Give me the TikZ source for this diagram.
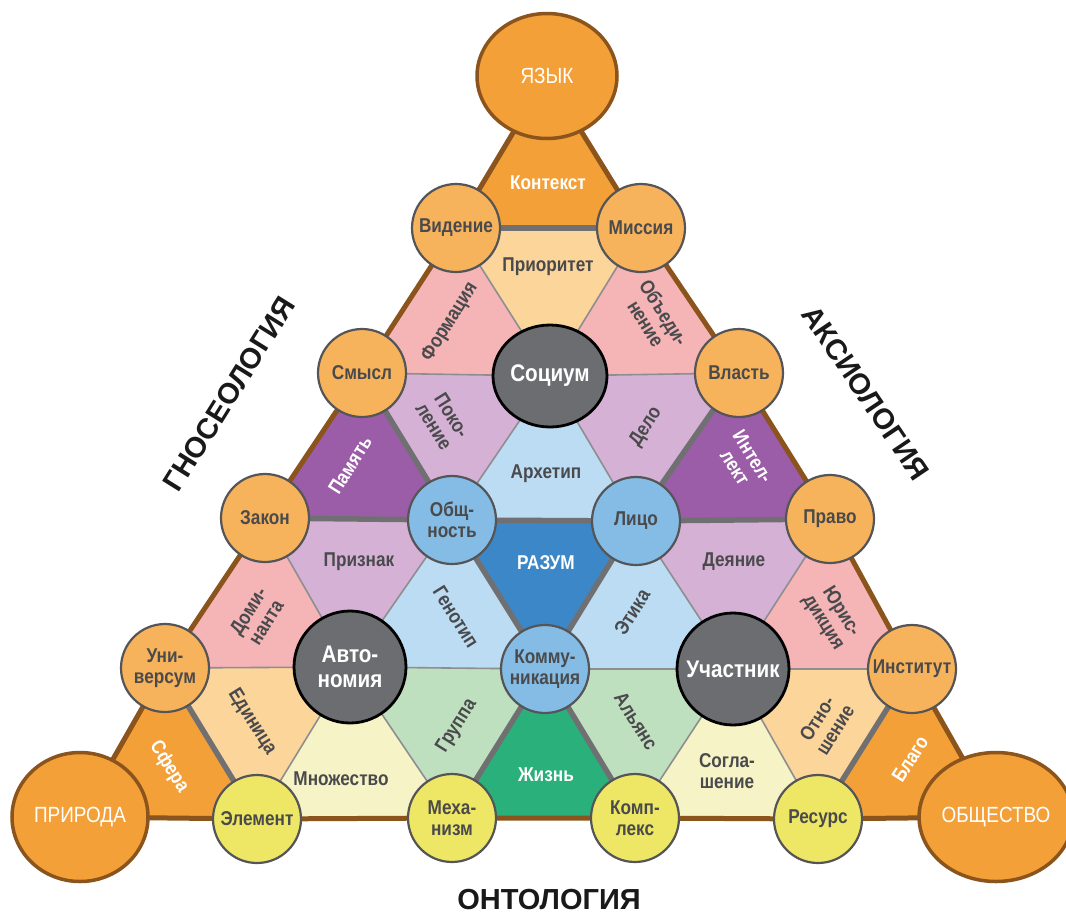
\documentclass[tikz,border=0pt]{standalone}
\usepackage{fontspec}
\setmainfont{Liberation Sans}
\newfontfamily\cond{Liberation Sans}[FakeStretch=0.86]
\usetikzlibrary{shapes.geometric}
\definecolor{brn}{RGB}{139,84,28}
\definecolor{cOr}{RGB}{243,160,56}
\definecolor{cOrM}{RGB}{247,179,92}
\definecolor{cPeach}{RGB}{252,213,155}
\definecolor{cPink}{RGB}{245,180,182}
\definecolor{cLilac}{RGB}{213,178,213}
\definecolor{cPurple}{RGB}{155,92,168}
\definecolor{cLBlue}{RGB}{187,220,242}
\definecolor{cBlue}{RGB}{59,135,199}
\definecolor{cCircBlue}{RGB}{132,188,229}
\definecolor{cLGreen}{RGB}{191,224,191}
\definecolor{cGreen}{RGB}{42,176,122}
\definecolor{cLYellow}{RGB}{246,244,198}
\definecolor{cYellow}{RGB}{237,231,101}
\definecolor{cDark}{RGB}{108,109,112}
\definecolor{txt}{RGB}{74,74,76}
\definecolor{thk}{RGB}{112,112,114}
\definecolor{thn}{RGB}{142,142,144}
\definecolor{circG}{RGB}{85,85,88}
\begin{document}
\begin{tikzpicture}[x=1pt,y=-1pt,
  lbl/.style={font=\cond\bfseries\fontsize{20}{21}\selectfont, text=txt, align=center, inner sep=0pt},
  wlbl/.style={lbl, text=white},
  midc/.style={circle, draw=circG, line width=2.2pt, minimum size=88pt, inner sep=0pt, lbl},
  orc/.style={midc, fill=cOrM},
  bluc/.style={midc, fill=cCircBlue},
  yelc/.style={midc, fill=cYellow},
  darkc/.style={circle, draw=black, line width=2.8pt, fill=cDark, minimum size=112pt, inner sep=0pt, font=\cond\bfseries\fontsize{24}{25}\selectfont, text=white, align=center},
  cornc/.style={ellipse, draw=brn, line width=3.5pt, fill=cOr, minimum width=136pt, minimum height=129pt, inner sep=0pt, font=\cond\fontsize{22}{24}\selectfont, text=white},
  titl/.style={font=\bfseries\fontsize{29}{30}\selectfont, text=black!90, inner sep=0pt},
  thinln/.style={draw=thn, line width=1.6pt},
  thickln/.style={draw=thk, line width=5.5pt},
  outln/.style={draw=brn, line width=5pt, line join=round},
]
\useasboundingbox (0,0) rectangle (1066,914);
% lattice points
\coordinate (pr) at (80,817);
\coordinate (el) at (257,819);
\coordinate (me) at (452,818);
\coordinate (ko) at (635,818);
\coordinate (re) at (818,819);
\coordinate (ob) at (996,817);
\coordinate (un) at (165,668);
\coordinate (av) at (350,667);
\coordinate (km) at (545,669);
\coordinate (uc) at (733,669);
\coordinate (in) at (912,669);
\coordinate (za) at (265,518);
\coordinate (os) at (452,520);
\coordinate (li) at (636,521);
\coordinate (pv) at (830,519);
\coordinate (sm) at (362,373);
\coordinate (so) at (550,376);
\coordinate (vl) at (739,373);
\coordinate (vi) at (456,228);
\coordinate (mi) at (641,228);
\coordinate (ya) at (547,76);
% fills: upward triangles
\fill[cOr] (vi) -- (mi) -- (ya) -- cycle;
\fill[cPink] (sm) -- (so) -- (vi) -- cycle;
\fill[cPink] (so) -- (vl) -- (mi) -- cycle;
\fill[cPurple] (za) -- (os) -- (sm) -- cycle;
\fill[cLBlue] (os) -- (li) -- (so) -- cycle;
\fill[cPurple] (li) -- (pv) -- (vl) -- cycle;
\fill[cPink] (un) -- (av) -- (za) -- cycle;
\fill[cLBlue] (av) -- (km) -- (os) -- cycle;
\fill[cLBlue] (km) -- (uc) -- (li) -- cycle;
\fill[cPink] (uc) -- (in) -- (pv) -- cycle;
\fill[cOr] (pr) -- (el) -- (un) -- cycle;
\fill[cLYellow] (el) -- (me) -- (av) -- cycle;
\fill[cGreen] (me) -- (ko) -- (km) -- cycle;
\fill[cLYellow] (ko) -- (re) -- (uc) -- cycle;
\fill[cOr] (re) -- (ob) -- (in) -- cycle;
% fills: downward triangles
\fill[cPeach] (vi) -- (mi) -- (so) -- cycle;
\fill[cLilac] (os) -- (sm) -- (so) -- cycle;
\fill[cLilac] (li) -- (so) -- (vl) -- cycle;
\fill[cLilac] (av) -- (za) -- (os) -- cycle;
\fill[cBlue] (km) -- (os) -- (li) -- cycle;
\fill[cLilac] (uc) -- (li) -- (pv) -- cycle;
\fill[cPeach] (el) -- (un) -- (av) -- cycle;
\fill[cLGreen] (me) -- (av) -- (km) -- cycle;
\fill[cLGreen] (ko) -- (km) -- (uc) -- cycle;
\fill[cPeach] (re) -- (uc) -- (in) -- cycle;
% thin internal lines
\draw[thinln] (sm) -- (so) -- (vl);
\draw[thinln] (un) -- (av) -- (km) -- (uc) -- (in);
\draw[thinln] (el) -- (av);
\draw[thinln] (me) -- (av);
\draw[thinln] (ko) -- (uc);
\draw[thinln] (re) -- (uc);
\draw[thinln] (av) -- (os);
\draw[thinln] (av) -- (za);
\draw[thinln] (uc) -- (pv);
\draw[thinln] (uc) -- (li);
\draw[thinln] (os) -- (so);
\draw[thinln] (li) -- (so);
\draw[thinln] (so) -- (mi);
\draw[thinln] (so) -- (vi);
% thick internal lines
\draw[thickln] (vi) -- (mi);
\draw[thickln] (za) -- (os) -- (sm);
\draw[thickln] (vl) -- (li) -- (pv);
\draw[thickln] (os) -- (li) -- (km) -- cycle;
\draw[thickln] (un) -- (el);
\draw[thickln] (me) -- (km) -- (ko);
\draw[thickln] (in) -- (re);
% outer outline
\draw[outln] (pr) -- (el) -- (me) -- (ko) -- (re) -- (ob) -- (in) -- (pv) -- (vl) -- (mi) -- (ya) -- (vi) -- (sm) -- (za) -- (un) -- cycle;
% triangle labels
\node[wlbl] (tKon) at (548,183) {Контекст};
\node[lbl] (tPri) at (548,267) {Приоритет};
\node[lbl, rotate=58] (tFor) at (450,322) {Формация};
\node[lbl, rotate=-58] (tObe) at (655,318) {Объеди-\\нение};
\node[lbl, rotate=-58] (tPok) at (443,421) {Поко-\\ление};
\node[lbl, rotate=58] (tDel) at (646,427) {Дело};
\node[wlbl, rotate=58] (tPam) at (350,465) {Память};
\node[lbl] (tArh) at (546,474) {Архетип};
\node[wlbl, rotate=-58] (tInt) at (744,462) {Интел-\\лект};
\node[lbl] (tPrz) at (359,562) {Признак};
\node[wlbl] (tRaz) at (546,563) {РАЗУМ};
\node[lbl] (tDey) at (734,562) {Деяние};
\node[lbl, rotate=58] (tDom) at (257,617) {Доми-\\нанта};
\node[lbl, rotate=-58] (tGen) at (456,617) {Генотип};
\node[lbl, rotate=58] (tEti) at (632,612) {Этика};
\node[lbl, rotate=-58] (tYur) at (832,617) {Юрис-\\дикция};
\node[lbl, rotate=-58] (tEdi) at (252,722) {Единица};
\node[lbl, rotate=58] (tGru) at (457,726) {Группа};
\node[lbl, rotate=-58] (tAly) at (636,721) {Альянс};
\node[lbl, rotate=58] (tOtn) at (826,724) {Отно-\\шение};
\node[wlbl, rotate=-58] (tSfe) at (169,767) {Сфера};
\node[lbl] (tMno) at (341,779) {Множество};
\node[wlbl] (tZhi) at (546,775) {Жизнь};
\node[lbl] (tSog) at (727,771) {Согла-\\шение};
\node[wlbl, rotate=58] (tBla) at (910,759) {Благо};
% circles
\node[cornc] (Pr) at (pr) {ПРИРОДА};
\node[cornc] (Ob) at (ob) {ОБЩЕСТВО};
\node[cornc, minimum width=140pt, minimum height=125pt] (Ya) at (ya) {ЯЗЫК};
\node[yelc] (El) at (el) {Элемент};
\node[yelc] (Me) at (me) {Меха-\\низм};
\node[yelc] (Ko) at (ko) {Комп-\\лекс};
\node[yelc] (Re) at (re) {Ресурс};
\node[orc] (Un) at (un) {Уни-\\версум};
\node[darkc] (Av) at (av) {Авто-\\номия};
\node[bluc] (Km) at (km) {Комму-\\никация};
\node[darkc] (Uc) at (uc) {Участник};
\node[orc] (In) at (in) {Институт};
\node[orc] (Za) at (za) {Закон};
\node[bluc] (Os) at (os) {Общ-\\ность};
\node[bluc] (Li) at (li) {Лицо};
\node[orc] (Pv) at (pv) {Право};
\node[orc] (Sm) at (sm) {Смысл};
\node[darkc, ellipse, minimum width=114pt, minimum height=102pt] (So) at (so) {Социум};
\node[orc] (Vl) at (vl) {Власть};
\node[orc] (Vi) at (vi) {Видение};
\node[orc] (Mi) at (mi) {Миссия};
% side titles
\node[titl, rotate=58] (tGn) at (229,394) {ГНОСЕОЛОГИЯ};
\node[titl, rotate=-56] (tAx) at (866,393) {АКСИОЛОГИЯ};
\node[titl, anchor=base] (tOn) at (549,909) {ОНТОЛОГИЯ};
\end{tikzpicture}
\end{document}
